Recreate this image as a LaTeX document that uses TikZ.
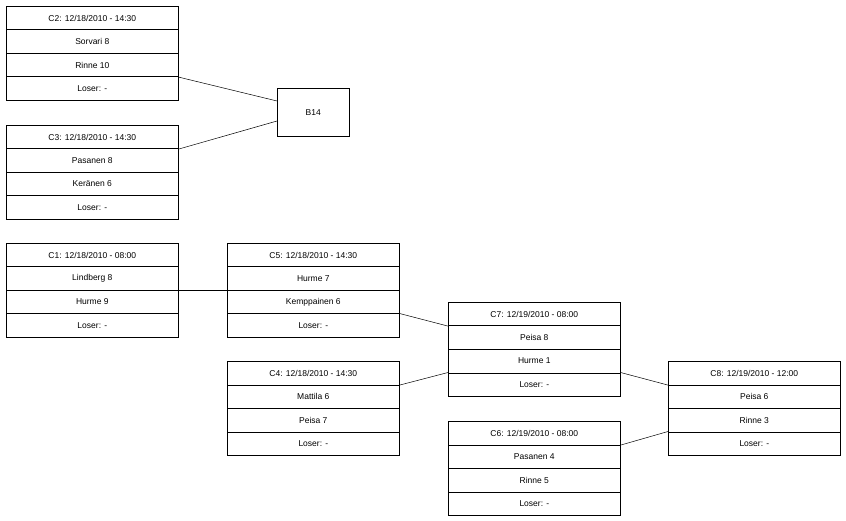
\documentclass[tikz,border=0pt]{standalone}
\usepackage{fontspec}
\setmainfont{Liberation Sans}
\usetikzlibrary{calc}
\begin{document}
\begin{tikzpicture}[x=1pt,y=-1pt,
  row/.style={draw,line width=0.6pt,minimum width=172pt,minimum height=23.5pt,inner sep=0pt,font=\fontsize{8.5}{10}\selectfont,anchor=north west},
  conn/.style={line width=0.5pt}]
\useasboundingbox (0,0) rectangle (846,521);
\newcommand\matchbox[7]{%
  \node[row] (#1h) at (#2,#3) {#4};
  \node[row] (#1a) at (#2,#3+23.5) {#5};
  \node[row] (#1b) at (#2,#3+47) {#6};
  \node[row] (#1l) at (#2,#3+70.5) {#7};}
\matchbox{c2}{6}{6}{C2: 12/18/2010 - 14:30}{Sorvari 8}{Rinne 10}{Loser: -}
\matchbox{c3}{6}{125}{C3: 12/18/2010 - 14:30}{Pasanen 8}{Ker\"anen 6}{Loser: -}
\matchbox{c1}{6}{243}{C1: 12/18/2010 - 08:00}{Lindberg 8}{Hurme 9}{Loser: -}
\matchbox{c5}{227}{243}{C5: 12/18/2010 - 14:30}{Hurme 7}{Kemppainen 6}{Loser: -}
\matchbox{c7}{448}{302}{C7: 12/19/2010 - 08:00}{Peisa 8}{Hurme 1}{Loser: -}
\matchbox{c4}{227}{361}{C4: 12/18/2010 - 14:30}{Mattila 6}{Peisa 7}{Loser: -}
\matchbox{c8}{668}{361}{C8: 12/19/2010 - 12:00}{Peisa 6}{Rinne 3}{Loser: -}
\matchbox{c6}{448}{421}{C6: 12/19/2010 - 08:00}{Pasanen 4}{Rinne 5}{Loser: -}
\node[draw,line width=0.6pt,minimum width=72pt,minimum height=48pt,inner sep=0pt,anchor=north west,font=\fontsize{8.5}{10}\selectfont] (b14) at (277,88) {B14};
\draw[conn] (c2b.south east) -- ($(b14.north west)+(0,13)$);
\draw[conn] (c3h.south east) -- ($(b14.north west)+(0,33)$);
\draw[conn] (c1b.north east) -- (c5b.north west);
\draw[conn] (c5l.north east) -- (c7h.south west);
\draw[conn] (c4h.south east) -- (c7l.north west);
\draw[conn] (c7l.north east) -- (c8h.south west);
\draw[conn] (c6h.south east) -- (c8l.north west);
\end{tikzpicture}
\end{document}
